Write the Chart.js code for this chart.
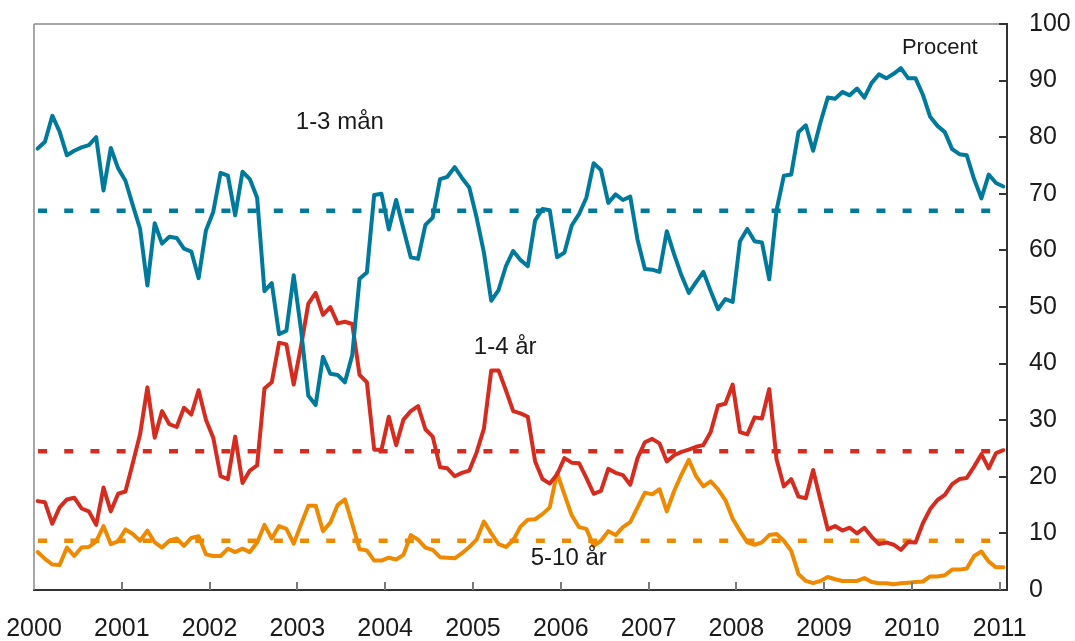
<!DOCTYPE html>
<html>
<head>
<meta charset="utf-8">
<script src="https://cdn.jsdelivr.net/npm/chart.js@4/dist/chart.umd.min.js"></script>
<style>
  html, body { margin: 0; padding: 0; background: #ffffff; }
  #wrap { width: 1075px; height: 641px; }
</style>
</head>
<body>
<div id="wrap"><canvas id="c" width="1075" height="641"></canvas></div>
<script>
// Tick labels (years) – one tick every 12 months starting Jan 2000
const yearLabels = ['2000','2001','2002','2003','2004','2005','2006','2007','2008','2009','2010','2011'];

// Monthly shares, Jan 2000 – Jan 2011 (per cent)
const shortTerm = [ // 1-3 mån
  78.0,79.2,83.8,81.0,76.8,77.6,78.2,78.6,80.0,70.6,78.1,74.5,
  72.3,68.0,63.8,53.8,64.8,61.2,62.4,62.2,60.3,59.8,55.1,63.5,
  66.8,73.7,73.2,66.2,73.9,72.6,69.3,52.8,54.2,45.2,45.8,55.6,
  46.0,34.3,32.7,41.2,38.2,38.0,36.7,41.5,55.0,56.1,69.8,70.0,
  63.7,68.9,63.8,58.8,58.5,64.5,65.8,72.6,73.0,74.7,72.8,71.1,
  65.8,59.6,51.1,53.0,57.2,59.9,58.3,57.2,65.3,67.3,67.1,58.8,
  59.6,64.4,66.4,69.3,75.4,74.2,68.4,69.9,68.9,69.5,61.9,56.7,
  56.6,56.2,63.4,59.3,55.6,52.5,54.4,56.2,52.8,49.6,51.4,50.9,
  61.6,63.8,61.6,61.4,54.9,67.1,73.2,73.4,80.9,82.1,77.6,82.6,
  87.0,86.8,88.0,87.4,88.6,87.0,89.6,91.1,90.4,91.2,92.2,90.4,
  90.4,87.5,83.6,82.0,80.9,77.9,77.0,76.8,72.6,69.2,73.4,71.9,
  71.3
];
const midTerm = [ // 1-4 år
  15.7,15.5,11.7,14.6,16.0,16.3,14.4,13.9,11.5,18.1,13.9,17.0,
  17.4,22.4,27.5,35.8,26.9,31.6,29.3,28.8,32.2,31.0,35.3,30.1,
  26.9,20.1,19.6,27.1,18.9,21.1,22.0,35.6,36.7,43.7,43.4,36.3,
  43.1,50.6,52.5,48.6,50.0,47.1,47.4,47.0,38.0,36.7,24.8,24.8,
  30.6,25.6,30.1,31.6,32.5,28.4,27.1,21.7,21.5,20.1,20.7,21.1,
  24.3,28.5,38.8,38.8,35.3,31.6,31.2,30.6,22.7,19.6,18.8,20.4,
  23.3,22.5,22.4,19.8,17.0,17.5,21.4,20.7,20.3,18.6,23.3,26.1,
  26.7,25.9,22.7,23.8,24.4,24.8,25.3,25.6,27.9,32.6,32.9,36.3,
  27.9,27.5,30.5,30.3,35.5,23.1,18.3,19.6,16.5,16.2,21.2,15.9,
  10.7,11.3,10.5,11.0,10.0,11.0,9.4,8.1,8.4,8.0,7.1,8.5,
  8.4,11.8,14.3,15.9,16.8,18.7,19.6,19.8,21.8,24.0,21.5,24.2,
  24.7
];
const longTerm = [ // 5-10 år
  6.7,5.5,4.5,4.4,7.5,6.0,7.5,7.6,8.6,11.3,8.1,8.6,
  10.7,9.9,8.7,10.5,8.4,7.5,8.7,9.1,7.8,9.2,9.5,6.3,
  6.0,6.0,7.3,6.7,7.3,6.7,8.4,11.5,9.1,11.3,10.8,8.2,
  11.6,14.9,14.9,10.4,11.9,15.0,16.0,11.7,7.2,7.0,5.2,5.2,
  5.7,5.4,6.2,9.7,8.9,7.5,7.1,5.8,5.7,5.6,6.5,7.6,
  8.9,12.1,10.0,8.1,7.6,8.8,11.2,12.4,12.5,13.4,14.6,20.7,
  16.9,13.2,11.1,10.8,7.8,8.7,10.4,9.7,11.1,12.0,14.6,17.2,
  16.9,17.8,13.9,17.5,20.4,23.0,20.1,18.3,19.2,17.8,15.9,12.6,
  10.4,8.4,8.0,8.4,9.7,9.9,8.7,6.9,2.8,1.6,1.2,1.6,
  2.3,1.9,1.6,1.6,1.6,2.1,1.4,1.2,1.2,1.0,1.2,1.3,
  1.4,1.5,2.4,2.4,2.6,3.6,3.6,3.8,6.0,6.8,5.0,4.0,
  4.0
];
// Period averages (dashed lines)
const avgShort = 67.0;
const avgMid = 24.5;
const avgLong = 8.7;

const seriesNames = ['1-3 mån', '1-4 år', '5-10 år'];
const unitLabel = 'Procent';

const BLUE = '#007a9c', RED = '#d62c1f', ORANGE = '#ee8900';
const FONT = "'Liberation Sans', Arial, sans-serif";

function toPoints(arr) { return arr.map((v, i) => ({ x: i + 0.5, y: v })); }
function avgLine(v) { return [{ x: 0.55, y: v }, { x: 130.7, y: v }]; }

const solid = (data, color) => ({
  data: toPoints(data), borderColor: color, borderWidth: 4, pointRadius: 0,
  tension: 0, fill: false, borderJoinStyle: 'round', borderCapStyle: 'round'
});
const dashed = (v, color) => ({
  data: avgLine(v), borderColor: color, borderWidth: 4.5, pointRadius: 0,
  tension: 0, fill: false, borderDash: [9, 17.2], borderCapStyle: 'butt'
});

const framePlugin = {
  id: 'frame',
  afterDraw(chart) {
    const ctx = chart.ctx;
    const { left, right, top, bottom } = chart.chartArea;
    const xs = chart.scales.x, ys = chart.scales.y;
    ctx.save();
    // top and left frame
    ctx.strokeStyle = '#8a8a8a';
    ctx.lineWidth = 1.5;
    ctx.beginPath();
    ctx.moveTo(left, top); ctx.lineTo(right, top);
    ctx.moveTo(left, top); ctx.lineTo(left, bottom);
    ctx.stroke();
    // inward x ticks
    ctx.strokeStyle = '#7a7a7a';
    ctx.lineWidth = 2;
    ctx.beginPath();
    for (let k = 1; k < yearLabels.length; k++) {
      const px = Math.round(xs.getPixelForValue(k * 12));
      ctx.moveTo(px, bottom); ctx.lineTo(px, bottom - 8);
    }
    ctx.stroke();
    // inward y ticks
    ctx.strokeStyle = '#333';
    ctx.beginPath();
    for (let v = 10; v <= 100; v += 10) {
      const py = Math.round(ys.getPixelForValue(v));
      ctx.moveTo(right, py); ctx.lineTo(right - 8, py);
    }
    ctx.stroke();
    // series labels
    ctx.fillStyle = '#1a1a1a';
    ctx.font = '24px ' + FONT;
    ctx.textBaseline = 'middle';
    ctx.textAlign = 'center';
    ctx.fillText(seriesNames[0], xs.getPixelForValue(41.8), ys.getPixelForValue(82.6));
    ctx.fillText(seriesNames[1], xs.getPixelForValue(64.4), ys.getPixelForValue(42.9));
    ctx.fillText(seriesNames[2], xs.getPixelForValue(73.1), ys.getPixelForValue(5.5));
    ctx.font = '22px ' + FONT;
    ctx.textAlign = 'right';
    ctx.fillText(unitLabel, xs.getPixelForValue(129.0), ys.getPixelForValue(95.7));
    ctx.restore();
  }
};

new Chart(document.getElementById('c'), {
  type: 'line',
  data: {
    datasets: [
      solid(shortTerm, BLUE),
      solid(midTerm, RED),
      solid(longTerm, ORANGE),
      dashed(avgShort, BLUE),
      dashed(avgMid, RED),
      dashed(avgLong, ORANGE)
    ]
  },
  options: {
    responsive: false,
    animation: false,
    devicePixelRatio: 1,
    layout: { padding: { left: 34, top: 24, right: 0, bottom: 0 } },
    plugins: { legend: { display: false }, tooltip: { enabled: false } },
    scales: {
      x: {
        type: 'linear', min: 0, max: 133,
        afterFit(s) { s.height = 51; s.paddingLeft = 0; s.paddingRight = 0; },
        afterBuildTicks(s) { s.ticks = yearLabels.map((_, k) => ({ value: k * 12 })); },
        grid: { display: false, drawTicks: false },
        border: { display: true, color: '#333', width: 2 },
        ticks: {
          autoSkip: false, maxRotation: 0, padding: 24,
          color: '#1a1a1a', font: { family: FONT, size: 25 },
          callback: (v) => yearLabels[Math.round(v / 12)]
        }
      },
      y: {
        position: 'right', min: 0, max: 100,
        afterFit(s) { s.width = 68; s.paddingTop = 0; s.paddingBottom = 0; },
        grid: { display: false, drawTicks: false },
        border: { display: true, color: '#333', width: 2 },
        ticks: {
          stepSize: 10, padding: 22, color: '#1a1a1a',
          font: { family: FONT, size: 25 }
        }
      }
    }
  },
  plugins: [framePlugin]
});
</script>
</body>
</html>
